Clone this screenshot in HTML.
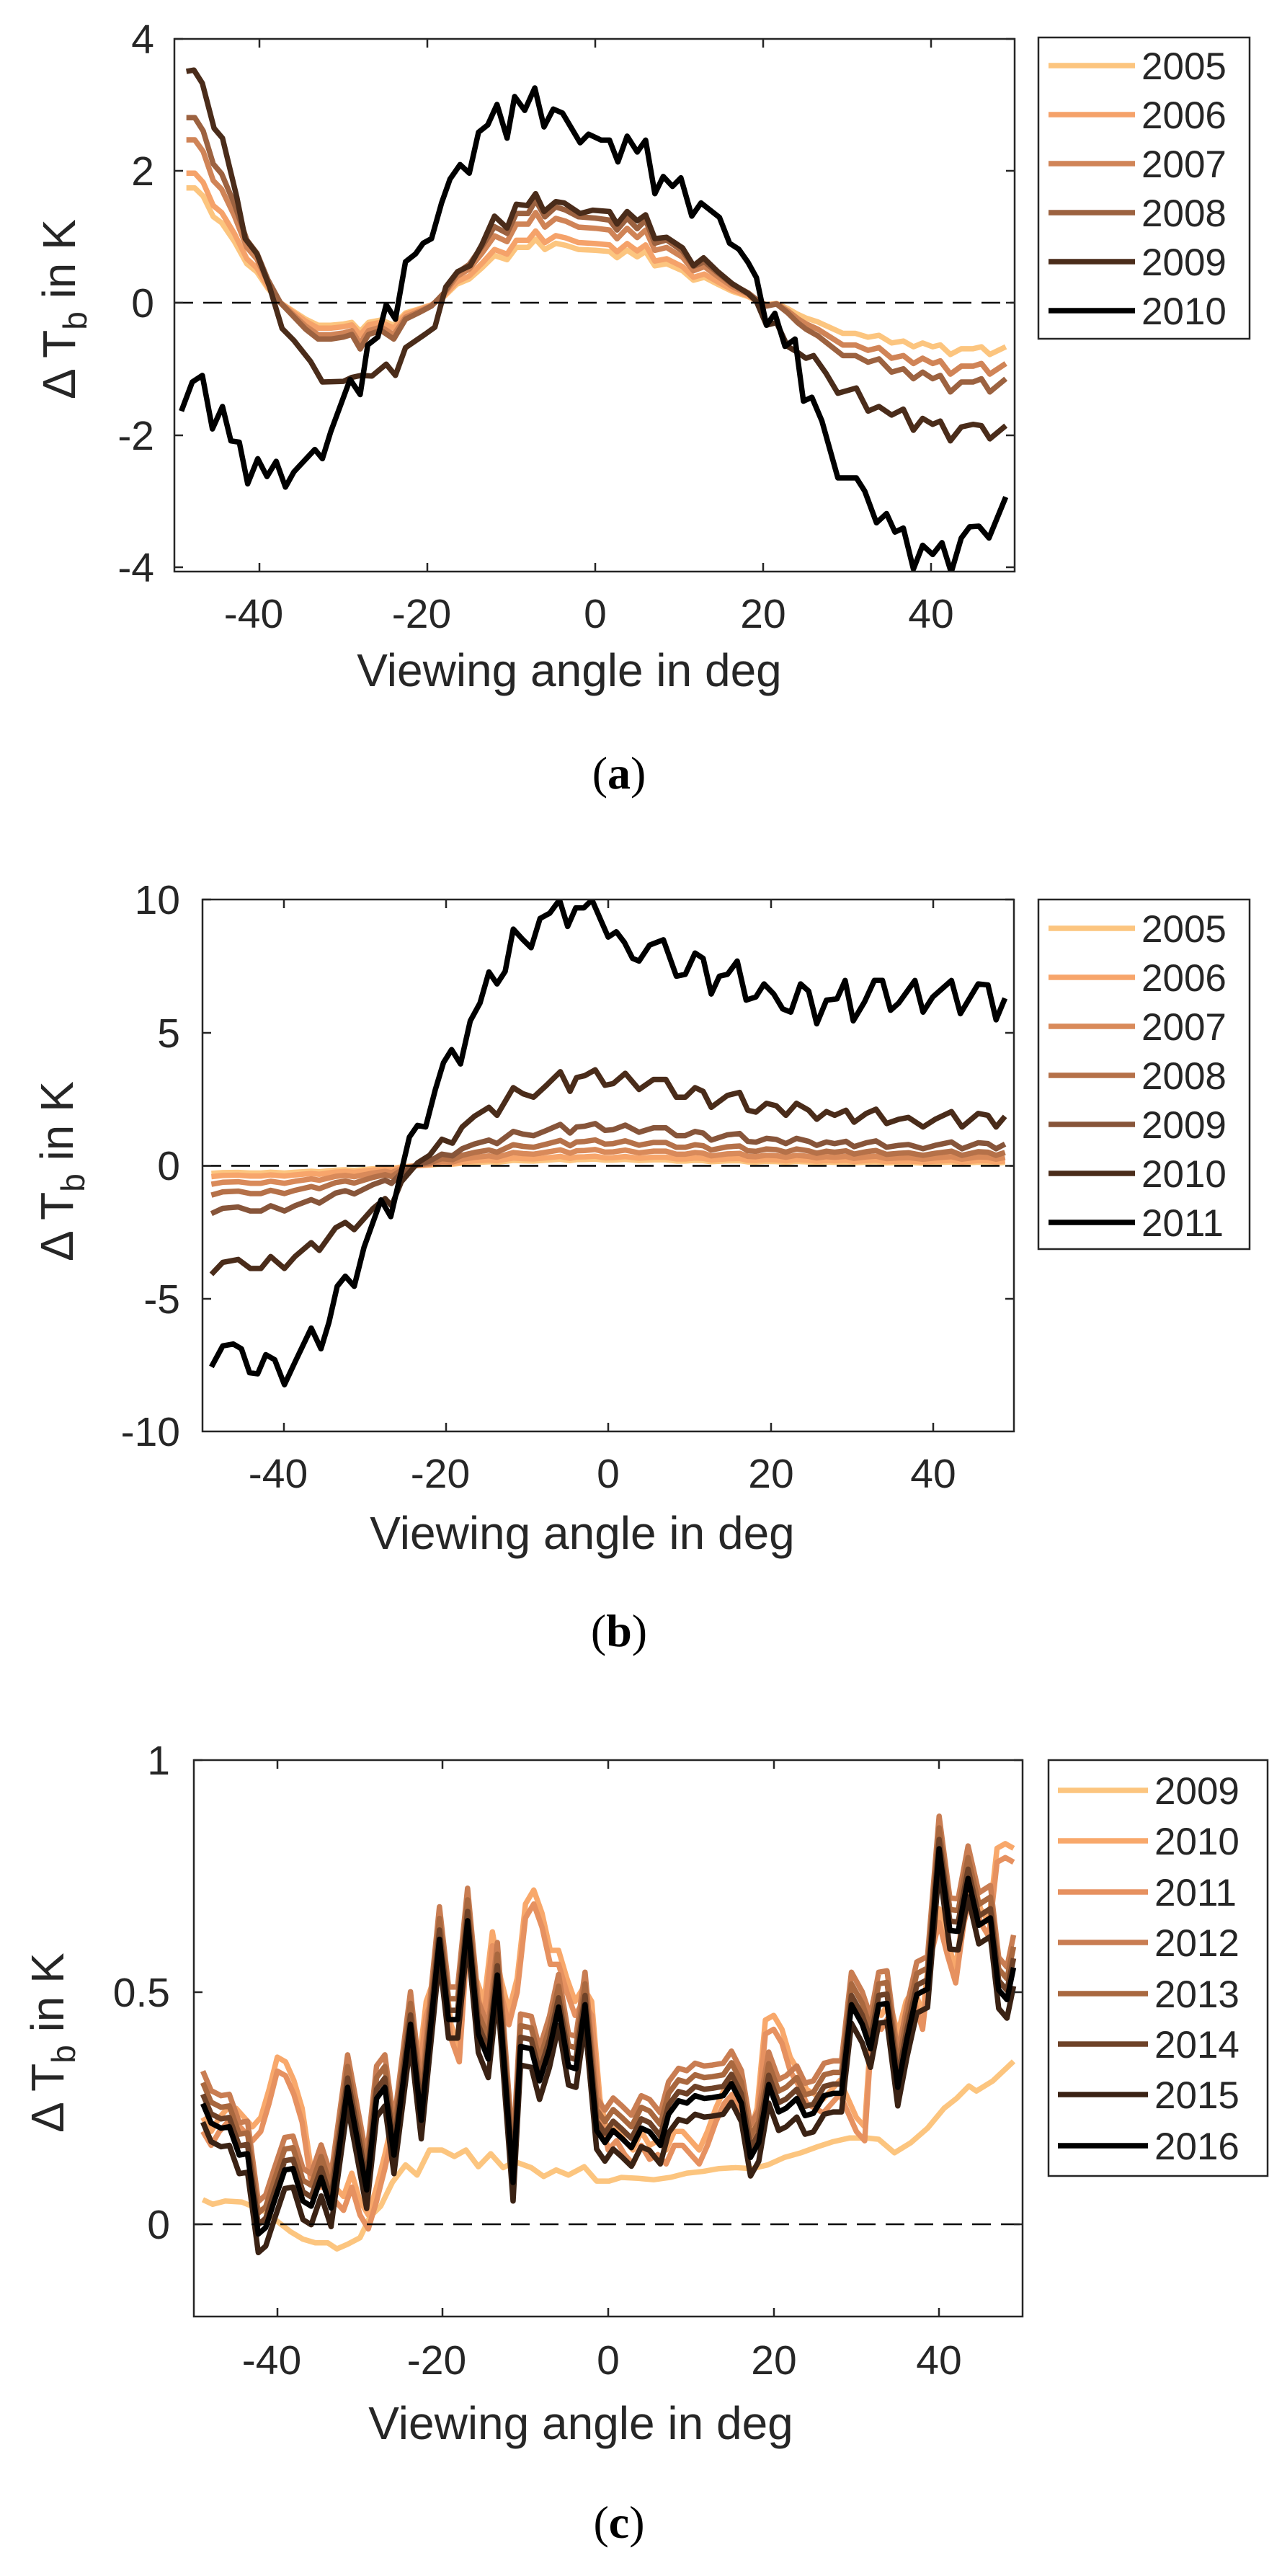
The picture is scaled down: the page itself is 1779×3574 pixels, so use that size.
<!DOCTYPE html>
<html><head><meta charset="utf-8"><style>
html,body{margin:0;padding:0;background:#fff}
svg{display:block}
text{font-family:"Liberation Sans",Arial,sans-serif;fill:#262626}
.tk{font-size:57px}
.lg{font-size:53px}
.xl{font-size:64px}
.cap{font-family:"Liberation Serif",serif;font-size:64px;fill:#000}
.d{fill:none;stroke-linejoin:round;stroke-width:7.5;vector-effect:non-scaling-stroke}
.ax{fill:none;stroke:#262626;stroke-width:2.5}
</style></head><body>
<svg width="1779" height="3574" viewBox="0 0 1779 3574" xmlns="http://www.w3.org/2000/svg" xmlns:xlink="http://www.w3.org/1999/xlink">
<defs>
<clipPath id="ca"><rect x="242" y="54" width="1166" height="739"/></clipPath>
<clipPath id="cb"><rect x="281" y="1248" width="1126" height="738"/></clipPath>
<clipPath id="cc"><rect x="269" y="2442" width="1150" height="772"/></clipPath>
<clipPath id="dl" clipPathUnits="userSpaceOnUse"><rect x="-60" y="-50" width="80" height="100"/></clipPath>
<clipPath id="dr" clipPathUnits="userSpaceOnUse"><rect x="20" y="-50" width="40" height="100"/></clipPath>
<polyline id="a8" class="d" points="-48.7,2.8 -47.7,2.8 -46.7,2.6 -45.5,2.1 -44.5,1.95 -43,1.5 -41.5,0.95 -40.3,0.75 -39,0.35 -37.5,0 -36,-0.2 -34.5,-0.4 -33,-0.55 -31.5,-0.55 -30,-0.52 -29,-0.48 -28,-0.7 -27,-0.48 -25.5,-0.42 -24,-0.55 -22.6,-0.25 -21,-0.15 -19.5,-0.05 -18,0.15 -16.5,0.45 -15,0.58 -13.5,0.85 -12,1.15 -10.5,1.05 -9.4,1.35 -8,1.35 -7.1,1.55 -6,1.3 -4.7,1.45 -3.5,1.4 -2,1.3 0,1.28 1.7,1.25 2.6,1.1 3.8,1.28 5,1.12 6,1.25 7.1,0.9 8.5,0.95 10.4,0.78 11.7,0.55 13,0.62 14.6,0.45 16.3,0.28 18.2,0.15 19.2,0.05 20.4,-0.05 21.6,-0.02 22.9,-0.15 24.1,-0.3 25.1,-0.4 26.5,-0.5 28,-0.65 29.5,-0.8 31,-0.8 32.5,-0.9 33.8,-0.85 35.3,-1.05 36.7,-1 37.9,-1.15 39,-1.05 40.2,-1.15 41.1,-1.1 42.3,-1.35 43.6,-1.2 45,-1.2 46,-1.15 47,-1.35 48.9,-1.15"/>
<polyline id="b10" class="d" points="-48.9,-4.08 -47.5,-3.63 -45.6,-3.52 -44.1,-3.86 -42.8,-3.86 -41.6,-3.41 -39.9,-3.86 -38.6,-3.41 -36.6,-2.89 -35.6,-3.18 -33.6,-2.33 -32.4,-2.13 -31.3,-2.4 -29,-1.61 -27.5,-1.23 -26.7,-1.5 -25.5,-0.6 -23.5,0.11 -22,0.4 -20.5,1 -19.2,0.85 -18,1.46 -16.5,1.86 -14.7,2.2 -13.7,1.9 -11.7,2.94 -10.5,2.71 -9.2,2.58 -7.6,3.03 -5.9,3.54 -4.7,2.8 -3.9,3.32 -2.9,3.39 -1.6,3.61 -0.4,3.03 0.6,3.09 2.1,3.48 3.8,2.87 5.6,3.25 7.1,3.25 8.4,2.58 9.5,2.58 10.7,2.94 11.7,2.8 12.7,2.2 14.7,2.65 16.2,2.76 17.2,2.09 18.2,2.02 19.5,2.35 20.7,2.26 21.9,1.9 23.2,2.35 24.7,2.09 25.7,1.75 26.9,2.04 27.9,1.9 29.3,2.09 30.3,1.64 31.8,1.97 33,2.13 34.3,1.59 35.8,1.75 37,1.82 38.8,1.46 40.3,1.75 42.3,2.04 43.6,1.46 45.6,1.97 46.8,1.9 47.8,1.46 48.9,1.86"/>
<polyline id="c16" class="d" points="-49,0.26 -48,0.218 -46.8,0.207 -45.8,0.21 -44.6,0.149 -43.6,0.152 -42.3,-0.021 -41.4,-0.007 -40.4,0.048 -39.1,0.117 -38.1,0.12 -36.9,0.05 -35.9,0.039 -34.7,0.101 -33.5,0.035 -31.5,0.295 -29.2,0.074 -28,0.271 -27,0.295 -25.9,0.149 -23.9,0.431 -22.6,0.224 -20.4,0.614 -19.3,0.441 -18.2,0.441 -17,0.654 -15.7,0.41 -14.5,0.356 -13.4,0.537 -11.5,0.09 -10.6,0.383 -9.3,0.378 -8.3,0.309 -7.1,0.378 -6,0.468 -4.8,0.34 -3.9,0.335 -2.8,0.473 -1.4,0.202 -0.4,0.176 0.6,0.202 1.6,0.186 2.8,0.165 4,0.207 5,0.199 6.3,0.17 7.3,0.237 8.5,0.266 9.5,0.261 10.5,0.277 11.6,0.271 12.6,0.273 13.9,0.277 14.9,0.303 16.1,0.261 17.2,0.144 18.2,0.176 19.4,0.301 20.6,0.242 21.5,0.25 22.8,0.271 23.8,0.234 24.8,0.239 26.1,0.277 27.2,0.282 28.2,0.282 29.4,0.473 30.7,0.431 31.7,0.378 32.7,0.473 33.7,0.476 35,0.295 36.1,0.399 37.3,0.495 38.6,0.507 40,0.809 41.3,0.633 42.3,0.631 43.5,0.745 44.8,0.644 46.2,0.66 47.2,0.505 48.2,0.484 49,0.553"/>
<polyline id="c11" class="d" points="-49,0.2 -48,0.17 -47,0.2 -46,0.22 -45,0.22 -44,0.2 -43,0.18 -42,0.2 -41,0.26 -40,0.33 -39,0.32 -38,0.28 -37,0.22 -36,0.1 -35,0.08 -34,0.08 -33,0.05 -32,0.03 -31,0.08 -30,0.02 -29,-0.01 -28,0.05 -27,0.12 -26,0.2 -25,0.28 -24,0.4 -23,0.3 -22,0.45 -21,0.5 -20,0.55 -19,0.4 -18,0.35 -17,0.62 -16,0.5 -15,0.45 -14,0.6 -13,0.5 -12,0.43 -11,0.5 -10,0.66 -9,0.69 -8,0.64 -7,0.56 -6,0.56 -5,0.5 -4,0.45 -3,0.48 -2,0.45 -1,0.24 0,0.16 1,0.18 2,0.15 3,0.13 4,0.17 5,0.14 6,0.15 7,0.13 8,0.17 9,0.17 10,0.15 11,0.13 12,0.17 13,0.22 14,0.26 15,0.28 16,0.24 17,0.16 18,0.22 19,0.41 20,0.42 21,0.39 22,0.33 23,0.3 24,0.26 25,0.25 26,0.24 27,0.26 28,0.28 29,0.24 30,0.2 31,0.18 32,0.45 33,0.42 34,0.45 35,0.38 36,0.45 37,0.48 38,0.42 39,0.58 40,0.65 41,0.58 42,0.52 43,0.65 44,0.72 45,0.65 46,0.62 47,0.78 48,0.79 49,0.78"/>
</defs>

<!-- ================= PANEL A ================= -->
<g clip-path="url(#ca)">
<g transform="matrix(11.65 0 0 -91.7 826 420)">
<use href="#a8" xlink:href="#a8" transform="scale(1,0.62)" clip-path="url(#dl)" stroke="#fcc57f"/>
<use href="#a8" xlink:href="#a8" transform="scale(1,0.58)" clip-path="url(#dr)" stroke="#fcc57f"/>
<use href="#a8" xlink:href="#a8" transform="scale(1,0.7)" clip-path="url(#dl)" stroke="#f5a26a"/>
<use href="#a8" xlink:href="#a8" transform="scale(1,0.8)" clip-path="url(#dr)" stroke="#f5a26a"/>
<use href="#a8" xlink:href="#a8" transform="scale(1,0.88)" clip-path="url(#dl)" stroke="#d08457"/>
<use href="#a8" xlink:href="#a8" transform="scale(1,0.8)" clip-path="url(#dr)" stroke="#d08457"/>
<use href="#a8" xlink:href="#a8" stroke="#9c6240"/>
<polyline class="d" stroke="#4a2c1a" points="-48.7,3.5 -47.8,3.52 -46.8,3.32 -45.4,2.64 -44.4,2.49 -42.7,1.6 -41.7,0.97 -40.3,0.74 -38.8,0.24 -37.3,-0.39 -35.9,-0.57 -33.9,-0.89 -32.5,-1.2 -30,-1.19 -29,-1.13 -27.9,-1.1 -26.6,-1.11 -24.9,-0.93 -23.8,-1.1 -22.6,-0.68 -20.3,-0.48 -19.1,-0.37 -17.8,0.24 -16.4,0.47 -14.9,0.56 -13.5,0.88 -12,1.31 -10.5,1.13 -9.4,1.49 -8.1,1.47 -7.1,1.65 -6.1,1.38 -4.7,1.53 -3.7,1.51 -1.8,1.35 -0.3,1.4 1.7,1.38 2.6,1.19 3.8,1.38 5,1.24 6,1.33 7.1,0.97 8.5,0.99 10.4,0.83 11.7,0.56 12.9,0.68 14.6,0.47 16.3,0.29 18.2,0.14 19.2,0.02 20.4,-0.34 21.6,-0.3 22.9,-0.66 24.1,-0.75 25.1,-0.84 26,-0.8 27.5,-1.07 28.9,-1.37 31.1,-1.29 32.5,-1.64 33.8,-1.57 35.3,-1.7 36.7,-1.61 37.9,-1.93 39,-1.75 40.2,-1.84 41.1,-1.79 42.3,-2.09 43.6,-1.88 45,-1.84 46,-1.86 47,-2.06 48.9,-1.86"/>
<polyline class="d" stroke="#000" points="-49.3,-1.64 -48,-1.2 -46.8,-1.1 -45.6,-1.91 -44.4,-1.57 -43.4,-2.09 -42.4,-2.11 -41.4,-2.74 -40.2,-2.36 -39.1,-2.63 -38,-2.4 -36.9,-2.79 -35.9,-2.56 -33.4,-2.22 -32.5,-2.36 -31.5,-1.95 -29.2,-1.16 -28,-1.39 -27.1,-0.64 -25.9,-0.52 -24.9,-0.03 -23.8,-0.25 -22.6,0.62 -21.4,0.74 -20.5,0.9 -19.5,0.97 -18.3,1.51 -17.3,1.87 -16.1,2.09 -15,1.96 -13.9,2.58 -12.8,2.69 -11.7,3 -10.5,2.49 -9.6,3.12 -8.4,2.91 -7.2,3.25 -6.1,2.66 -5,2.93 -3.9,2.87 -1.8,2.42 -0.8,2.55 0.7,2.46 1.7,2.46 2.7,2.13 3.8,2.52 5,2.28 6,2.46 7.1,1.65 8.1,1.91 9.2,1.76 10.2,1.89 11.5,1.31 12.6,1.51 14.8,1.29 16,0.9 17.1,0.81 18.2,0.61 19.2,0.38 20.4,-0.34 21.4,-0.16 22.6,-0.66 23.8,-0.55 24.8,-1.49 25.8,-1.43 27,-1.79 28.9,-2.65 31.1,-2.65 32.1,-2.85 33.5,-3.33 34.7,-3.19 35.7,-3.47 36.7,-3.41 37.9,-4.03 39,-3.67 40.2,-3.81 41.3,-3.63 42.4,-4.08 43.6,-3.56 44.6,-3.39 45.7,-3.38 46.9,-3.56 48.9,-2.94"/>
</g>
</g>
<line x1="242" y1="420" x2="1408" y2="420" stroke="#000" stroke-width="2.5" stroke-dasharray="26 14"/>
<rect class="ax" x="242" y="54" width="1166" height="739"/>
<path class="ax" d="M360,793v-12M593,793v-12M826,793v-12M1059,793v-12M1292,793v-12M360,54v12M593,54v12M826,54v12M1059,54v12M1292,54v12M242,54h12M242,237h12M242,420h12M242,604h12M242,787h12M1408,54h-12M1408,237h-12M1408,420h-12M1408,604h-12M1408,787h-12"/>
<g class="tk" text-anchor="end">
<text x="214" y="74">4</text><text x="214" y="257">2</text><text x="214" y="440">0</text><text x="214" y="624">-2</text><text x="214" y="807">-4</text>
</g>
<g class="tk" text-anchor="middle">
<text x="352" y="871">-40</text><text x="585" y="871">-20</text><text x="826" y="871">0</text><text x="1059" y="871">20</text><text x="1292" y="871">40</text>
</g>
<text class="xl" x="790" y="952" text-anchor="middle">Viewing angle in deg</text>
<text class="xl" transform="translate(104,429) rotate(-90)" text-anchor="middle">Δ T<tspan font-size="46" dy="16">b</tspan><tspan dy="-16"> in K</tspan></text>
<text class="cap" x="859" y="1094" text-anchor="middle">(<tspan font-weight="bold">a</tspan>)</text>
<rect x="1441" y="52" width="293" height="418" fill="#fff" stroke="#262626" stroke-width="2.5"/>
<g stroke-width="7.5">
<line x1="1455" x2="1575" y1="91" y2="91" stroke="#fcc57f"/>
<line x1="1455" x2="1575" y1="159" y2="159" stroke="#f5a26a"/>
<line x1="1455" x2="1575" y1="227" y2="227" stroke="#d08457"/>
<line x1="1455" x2="1575" y1="295" y2="295" stroke="#9c6240"/>
<line x1="1455" x2="1575" y1="363" y2="363" stroke="#4a2c1a"/>
<line x1="1455" x2="1575" y1="431" y2="431" stroke="#000"/>
</g>
<g class="lg"><text x="1584" y="110">2005</text><text x="1584" y="178">2006</text><text x="1584" y="246">2007</text><text x="1584" y="314">2008</text><text x="1584" y="382">2009</text><text x="1584" y="450">2010</text></g>

<!-- ================= PANEL B ================= -->
<g clip-path="url(#cb)">
<g transform="matrix(11.26 0 0 -36.9 844 1617.5)">
<use href="#b10" xlink:href="#b10" transform="scale(1,0.07)" stroke="#fcc57f"/>
<use href="#b10" xlink:href="#b10" transform="scale(1,0.1)" stroke="#f7a56b"/>
<use href="#b10" xlink:href="#b10" transform="scale(1,0.17)" stroke="#d98a5a"/>
<use href="#b10" xlink:href="#b10" transform="scale(1,0.27)" stroke="#b57149"/>
<use href="#b10" xlink:href="#b10" transform="scale(1,0.44)" stroke="#87553a"/>
<use href="#b10" xlink:href="#b10" stroke="#4a2c1a"/>
<polyline class="d" stroke="#000" points="-48.9,-7.56 -47.5,-6.77 -46.2,-6.7 -45.2,-6.88 -44.2,-7.78 -43.2,-7.82 -42.2,-7.1 -41.1,-7.29 -39.9,-8.23 -38.6,-7.38 -36.6,-6.1 -35.4,-6.88 -34.4,-5.87 -33.4,-4.53 -32.4,-4.15 -31.3,-4.53 -30.1,-3.07 -28,-1.28 -26.8,-1.91 -25.8,-0.6 -24.5,1.08 -23.5,1.52 -22.5,1.46 -21.3,2.87 -20.3,3.88 -19.3,4.37 -18.2,3.83 -17,5.45 -15.8,6.12 -14.7,7.29 -13.7,6.84 -12.7,7.31 -11.7,8.9 -10.5,8.5 -9.5,8.2 -8.4,9.3 -7.2,9.5 -6,10 -5,9 -4,9.7 -3,9.7 -2,10 -1,9.3 0,8.6 1,8.8 2,8.4 3,7.8 3.8,7.7 5.1,8.3 6.8,8.5 8.4,7.13 9.5,7.2 10.7,8 11.7,7.8 12.7,6.46 13.7,7.13 14.7,7.2 15.9,7.7 17,6.23 18.2,6.35 19.2,6.84 20.4,6.46 21.5,5.9 22.5,5.78 23.7,6.84 24.7,6.57 25.7,5.34 26.9,6.23 28.2,6.28 29.2,6.97 30.2,5.45 31.6,6.17 32.8,6.97 33.8,6.97 34.8,5.85 35.8,6.12 37.8,6.97 38.8,5.78 40,6.35 42.3,6.97 43.4,5.72 45.6,6.84 46.8,6.8 47.8,5.49 48.9,6.3"/>
</g>
</g>
<line x1="281" y1="1617.5" x2="1407" y2="1617.5" stroke="#000" stroke-width="2.5" stroke-dasharray="26 14"/>
<rect class="ax" x="281" y="1248" width="1126" height="738"/>
<path class="ax" d="M394,1986v-12M619,1986v-12M844,1986v-12M1070,1986v-12M1295,1986v-12M394,1248v12M619,1248v12M844,1248v12M1070,1248v12M1295,1248v12M281,1248h12M281,1433h12M281,1617.5h12M281,1802h12M1407,1248h-12M1407,1433h-12M1407,1617.5h-12M1407,1802h-12"/>
<g class="tk" text-anchor="end">
<text x="250" y="1268">10</text><text x="250" y="1453">5</text><text x="250" y="1637">0</text><text x="250" y="1822">-5</text><text x="250" y="2006">-10</text>
</g>
<g class="tk" text-anchor="middle">
<text x="386" y="2064">-40</text><text x="611" y="2064">-20</text><text x="844" y="2064">0</text><text x="1070" y="2064">20</text><text x="1295" y="2064">40</text>
</g>
<text class="xl" x="808" y="2149" text-anchor="middle">Viewing angle in deg</text>
<text class="xl" transform="translate(101,1625) rotate(-90)" text-anchor="middle">Δ T<tspan font-size="46" dy="16">b</tspan><tspan dy="-16"> in K</tspan></text>
<text class="cap" x="859" y="2284" text-anchor="middle">(<tspan font-weight="bold">b</tspan>)</text>
<rect x="1441" y="1248" width="293" height="485" fill="#fff" stroke="#262626" stroke-width="2.5"/>
<g stroke-width="7.5">
<line x1="1455" x2="1575" y1="1288" y2="1288" stroke="#fcc57f"/>
<line x1="1455" x2="1575" y1="1356" y2="1356" stroke="#f7a56b"/>
<line x1="1455" x2="1575" y1="1424" y2="1424" stroke="#d98a5a"/>
<line x1="1455" x2="1575" y1="1492" y2="1492" stroke="#b57149"/>
<line x1="1455" x2="1575" y1="1560" y2="1560" stroke="#87553a"/>
<line x1="1455" x2="1575" y1="1628" y2="1628" stroke="#4a2c1a"/>
<line x1="1455" x2="1575" y1="1696" y2="1696" stroke="#000"/>
</g>
<g class="lg"><text x="1584" y="1307">2005</text><text x="1584" y="1375">2006</text><text x="1584" y="1443">2007</text><text x="1584" y="1511">2008</text><text x="1584" y="1579">2009</text><text x="1584" y="1647">2010</text><text x="1584" y="1715">2011</text></g>

<!-- ================= PANEL C ================= -->
<g clip-path="url(#cc)">
<g transform="matrix(11.48 0 0 -644 844 3086)">
<polyline class="d" stroke="#fcc57f" points="-49,0.053 -47.8,0.043 -46.3,0.05 -44.3,0.048 -42.8,0.037 -41.4,0.027 -39.9,0.005 -38.4,-0.016 -36.9,-0.032 -35.4,-0.04 -33.9,-0.04 -32.8,-0.053 -31.5,-0.043 -30,-0.029 -28.8,0.016 -27.5,0.039 -26.1,0.09 -24.5,0.128 -23.1,0.106 -21.6,0.16 -20.1,0.16 -18.6,0.146 -17.2,0.16 -15.7,0.124 -14.2,0.152 -12.7,0.122 -11.3,0.135 -9.3,0.122 -7.8,0.103 -6.3,0.117 -4.8,0.106 -2.9,0.124 -1.4,0.093 0.1,0.093 1.6,0.101 3.6,0.099 5.5,0.096 7.5,0.101 9.5,0.11 11.5,0.114 13.4,0.12 15.4,0.122 17.4,0.12 19.3,0.128 21.3,0.144 23.3,0.154 25.3,0.167 27.2,0.178 29.2,0.186 31.2,0.186 32.7,0.183 34.6,0.154 36.6,0.176 38.6,0.207 40.6,0.25 42.1,0.271 43.6,0.298 44.5,0.287 46.5,0.309 49,0.351"/>
<use href="#c11" xlink:href="#c11" transform="translate(0,0.03)" stroke="#f8a86b"/>
<use href="#c11" xlink:href="#c11" stroke="#e69160"/>
<use href="#c16" xlink:href="#c16" transform="translate(0,0.07)" stroke="#c97d52"/>
<use href="#c16" xlink:href="#c16" transform="translate(0,0.045)" stroke="#a9683f"/>
<use href="#c16" xlink:href="#c16" transform="translate(0,0.02)" stroke="#6e4228"/>
<use href="#c16" xlink:href="#c16" transform="translate(0,-0.04)" stroke="#3a2214"/>
<use href="#c16" xlink:href="#c16" stroke="#000"/>
</g>
</g>
<line x1="269" y1="3086" x2="1419" y2="3086" stroke="#000" stroke-width="2.5" stroke-dasharray="26 14"/>
<rect class="ax" x="269" y="2442" width="1150" height="772"/>
<path class="ax" d="M385,3214v-12M614,3214v-12M844,3214v-12M1074,3214v-12M1303,3214v-12M385,2442v12M614,2442v12M844,2442v12M1074,2442v12M1303,2442v12M269,2442h12M269,2764h12M269,3086h12M1419,2442h-12M1419,2764h-12M1419,3086h-12"/>
<g class="tk" text-anchor="end">
<text x="236" y="2462">1</text><text x="236" y="2784">0.5</text><text x="236" y="3106">0</text>
</g>
<g class="tk" text-anchor="middle">
<text x="377" y="3294">-40</text><text x="606" y="3294">-20</text><text x="844" y="3294">0</text><text x="1074" y="3294">20</text><text x="1303" y="3294">40</text>
</g>
<text class="xl" x="806" y="3384" text-anchor="middle">Viewing angle in deg</text>
<text class="xl" transform="translate(88,2834) rotate(-90)" text-anchor="middle">Δ T<tspan font-size="46" dy="16">b</tspan><tspan dy="-16"> in K</tspan></text>
<text class="cap" x="859" y="3521" text-anchor="middle">(<tspan font-weight="bold">c</tspan>)</text>
<rect x="1455" y="2442" width="304" height="577" fill="#fff" stroke="#262626" stroke-width="2.5"/>
<g stroke-width="7.5">
<line x1="1468" x2="1593" y1="2484" y2="2484" stroke="#fcc57f"/>
<line x1="1468" x2="1593" y1="2554" y2="2554" stroke="#f8a86b"/>
<line x1="1468" x2="1593" y1="2625" y2="2625" stroke="#e69160"/>
<line x1="1468" x2="1593" y1="2695" y2="2695" stroke="#c97d52"/>
<line x1="1468" x2="1593" y1="2766" y2="2766" stroke="#a9683f"/>
<line x1="1468" x2="1593" y1="2836" y2="2836" stroke="#6e4228"/>
<line x1="1468" x2="1593" y1="2906" y2="2906" stroke="#3a2214"/>
<line x1="1468" x2="1593" y1="2977" y2="2977" stroke="#000"/>
</g>
<g class="lg"><text x="1602" y="2503">2009</text><text x="1602" y="2573">2010</text><text x="1602" y="2644">2011</text><text x="1602" y="2714">2012</text><text x="1602" y="2785">2013</text><text x="1602" y="2855">2014</text><text x="1602" y="2925">2015</text><text x="1602" y="2996">2016</text></g>
</svg>
</body></html>
